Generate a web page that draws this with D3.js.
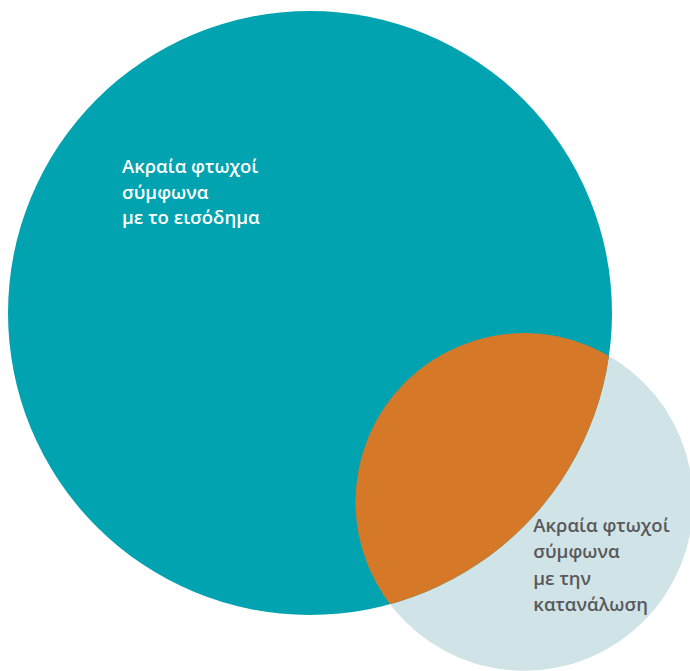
<!DOCTYPE html>
<html>
<head>
<meta charset="utf-8">
<script src="https://cdn.jsdelivr.net/npm/d3@7.9.0/dist/d3.min.js"></script>
<style>
  html, body { margin: 0; padding: 0; background: #fff; }
  svg { display: block; }
  text { font-family: "Open Sans", "Noto Sans", sans-serif; font-size: 18.5px; font-weight: 600; }
</style>
</head>
<body>
<svg id="venn" width="690" height="671"></svg>
<script>
// set names (one entry per line of the label)
const setLabels = [
  ['Ακραία φτωχοί', 'σύμφωνα', 'με το εισόδημα'],
  ['Ακραία φτωχοί', 'σύμφωνα', 'με την', 'κατανάλωση']
];
// relative sizes of the two sets and of their overlap
const setSizes = [64, 20];
const overlapSize = 10;

const colors = ['#00a3af', '#d0e3e7'];
const overlapColor = '#d57828';
const textColors = ['#ffffff', '#58585a'];

const svg = d3.select('#venn');

// area -> radius
const r = d3.scaleSqrt().domain([0, setSizes[0]]).range([0, 302]);
const r1 = r(setSizes[0]);
const r2 = r(setSizes[1]);
const targetArea = Math.PI * r(overlapSize) ** 2;

// lens area of two circles at distance d
function lensArea(d, a, b) {
  if (d >= a + b) return 0;
  if (d <= Math.abs(a - b)) return Math.PI * Math.min(a, b) ** 2;
  const t1 = a * a * Math.acos((d * d + a * a - b * b) / (2 * d * a));
  const t2 = b * b * Math.acos((d * d + b * b - a * a) / (2 * d * b));
  const t3 = 0.5 * Math.sqrt((-d + a + b) * (d + a - b) * (d - a + b) * (d + a + b));
  return t1 + t2 - t3;
}

// find center distance that gives the wanted overlap (bisection)
let lo = Math.abs(r1 - r2), hi = r1 + r2;
for (let k = 0; k < 60; k++) {
  const mid = (lo + hi) / 2;
  if (lensArea(mid, r1, r2) > targetArea) lo = mid; else hi = mid;
}
const dist = (lo + hi) / 2;

// layout: big circle centre, small one down-right
const angle = 41.4 * Math.PI / 180;
const c1 = [310, 313];
const c2 = [c1[0] + dist * Math.cos(angle), c1[1] + dist * Math.sin(angle)];

const circles = [
  { cx: c1[0], cy: c1[1], r: r1 },
  { cx: c2[0], cy: c2[1], r: r2 }
];

// clip for the overlap
svg.append('defs').append('clipPath').attr('id', 'clip-small')
  .append('circle')
  .attr('cx', circles[1].cx).attr('cy', circles[1].cy).attr('r', circles[1].r);

// small circle first, then big one on top
svg.append('circle')
  .attr('cx', circles[1].cx).attr('cy', circles[1].cy).attr('r', circles[1].r)
  .attr('fill', colors[1]);
svg.append('circle')
  .attr('cx', circles[0].cx).attr('cy', circles[0].cy).attr('r', circles[0].r)
  .attr('fill', colors[0]);

// overlap
svg.append('circle')
  .attr('clip-path', 'url(#clip-small)')
  .attr('cx', circles[0].cx).attr('cy', circles[0].cy).attr('r', circles[0].r)
  .attr('fill', overlapColor);

// labels, placed relative to each circle's centre
const labelOffsets = [[-188, -140], [9, 30]];
const lineHeights = [25.5, 26.5];

setLabels.forEach((lines, i) => {
  const t = svg.append('text')
    .attr('x', circles[i].cx + labelOffsets[i][0])
    .attr('y', circles[i].cy + labelOffsets[i][1])
    .attr('fill', textColors[i]);
  lines.forEach((line, j) => {
    t.append('tspan')
      .attr('x', circles[i].cx + labelOffsets[i][0])
      .attr('y', circles[i].cy + labelOffsets[i][1] + j * lineHeights[i])
      .text(line);
  });
});
</script>
</body>
</html>
